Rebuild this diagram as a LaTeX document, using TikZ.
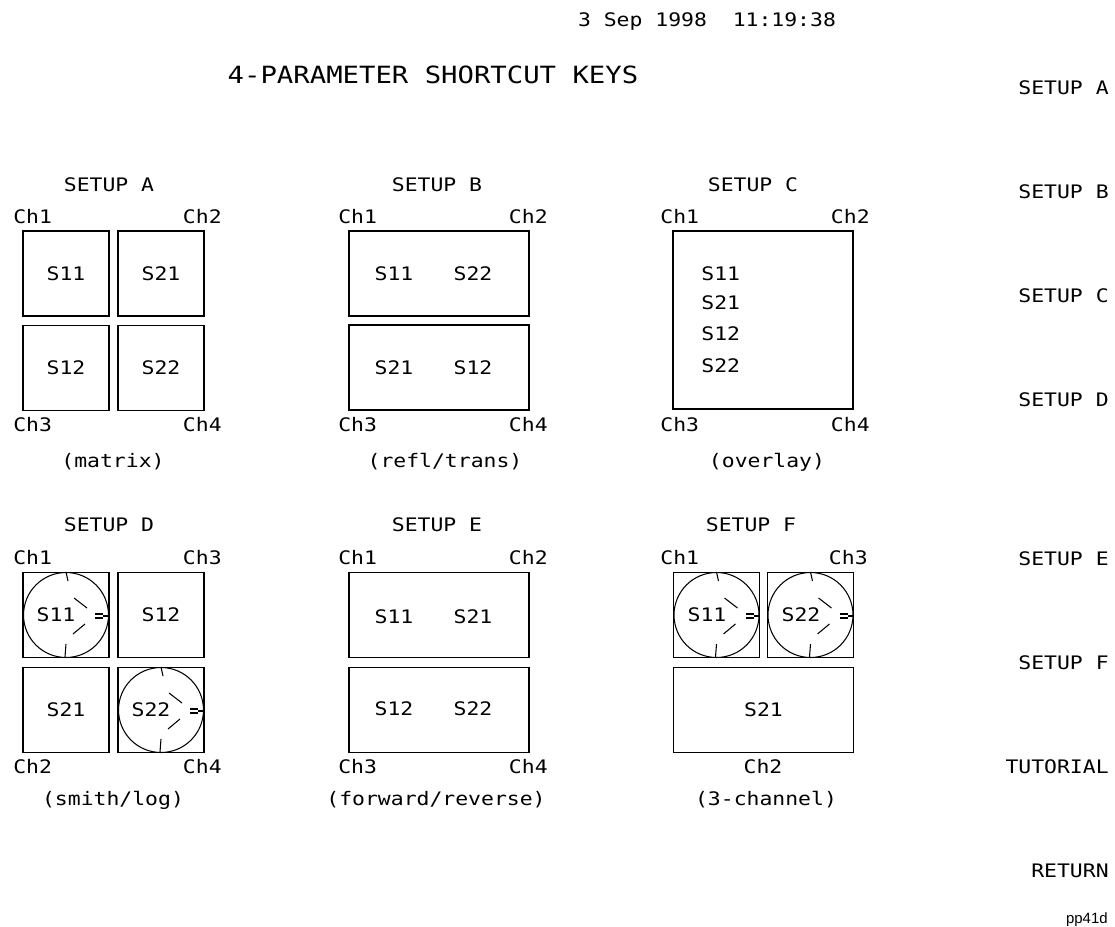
\documentclass[tikz,border=0pt]{standalone}
\usepackage{fontspec}
\usepackage{tikz}
\usetikzlibrary{positioning,calc}
\newfontfamily\hpfont[FakeStretch=1.15]{DejaVu Sans Mono}
\newfontfamily\tagfont{Liberation Sans}

% smith chart drawn inside a pane
\newcommand{\smithchart}[1]{%
  \begin{scope}[shift={(#1.center)}, smithline]
    \draw (0,0) circle [radius=0.85cm];
    \draw (0,-43) -- (2,-34);
    \draw (0,29) -- (-1,42);
    \draw (8,-17) -- (21,-7);
    \draw (7,19) -- (19,9);
    \draw (29,-1) -- (37,-1);
    \draw (29,3) -- (37,3);
    \draw (37,1) -- (43,1);
  \end{scope}}

\begin{document}
\begin{tikzpicture}[x=0.02cm, y=-0.02cm,
  hptext/.style={font=\hpfont\fontsize{10.6}{12}\selectfont, inner sep=0pt},
  hptitle/.style={font=\hpfont\fontsize{13.5}{15}\selectfont, inner sep=0pt},
  pane/.style={draw, line width=0.9pt, inner sep=0pt, hptext,
    minimum width=1.72cm, minimum height=1.70cm},
  widepane/.style={pane, minimum width=3.6cm},
  tallpane/.style={pane, minimum width=3.6cm, minimum height=3.56cm},
  softkey/.style={hptext, anchor=east},
  smithline/.style={line width=0.6pt}
]
\useasboundingbox (0,0) rectangle (1115,926);

% header
\node[hptext] (stamp) at (707,22) {3 Sep 1998\ \ 11:19:38};
\node[hptitle] (title) at (433,75) {4-PARAMETER SHORTCUT KEYS};

% softkey menu
\node[softkey] (keya) at (1109,88) {SETUP A};
\node[softkey] (keyb) at (1109,192) {SETUP B};
\node[softkey] (keyc) at (1109,296) {SETUP C};
\node[softkey] (keyd) at (1109,400) {SETUP D};
\node[softkey] (keye) at (1109,559) {SETUP E};
\node[softkey] (keyf) at (1109,663) {SETUP F};
\node[softkey] (keytut) at (1109,767) {TUTORIAL};
\node[softkey] (keyret) at (1109,871) {RETURN};
\node[font=\tagfont\fontsize{8.5}{10}\selectfont, inner sep=0pt, anchor=east] (tag) at (1108,920) {pp41d};

% setup A
\node[hptext] (labela) at (109,185) {SETUP A};
\node[pane] (a11) at (66,273.5) {S11};
\node[pane] (a21) at (161,273.5) {S21};
\node[pane] (a12) at (66,368) {S12};
\node[pane] (a22) at (161,368) {S22};
\node[hptext, anchor=west] (ach1) at (13,217) {Ch1};
\node[hptext, anchor=east] (ach2) at (222,217) {Ch2};
\node[hptext, anchor=west] (ach3) at (13,425) {Ch3};
\node[hptext, anchor=east] (ach4) at (222,425) {Ch4};
\node[hptext] (desca) at (113,462) {(matrix)};

% setup B
\node[hptext] (labelb) at (437,185) {SETUP B};
\node[widepane] (b1) at (439,273.5) {};
\node[widepane] (b2) at (439,367.5) {};
\node[hptext] at (394,274) {S11};
\node[hptext] at (473,274) {S22};
\node[hptext] at (394,368) {S21};
\node[hptext] at (473,368) {S12};
\node[hptext, anchor=west] (bch1) at (338,217) {Ch1};
\node[hptext, anchor=east] (bch2) at (548,217) {Ch2};
\node[hptext, anchor=west] (bch3) at (338,425) {Ch3};
\node[hptext, anchor=east] (bch4) at (548,425) {Ch4};
\node[hptext] (descb) at (445,462) {(refl/trans)};

% setup C
\node[hptext] (labelc) at (753,185) {SETUP C};
\node[tallpane] (c1) at (763,320) {};
\node[hptext, anchor=west] at (701,274) {S11};
\node[hptext, anchor=west] at (701,303) {S21};
\node[hptext, anchor=west] at (701,334) {S12};
\node[hptext, anchor=west] at (701,366) {S22};
\node[hptext, anchor=west] (cch1) at (660,217) {Ch1};
\node[hptext, anchor=east] (cch2) at (870,217) {Ch2};
\node[hptext, anchor=west] (cch3) at (660,425) {Ch3};
\node[hptext, anchor=east] (cch4) at (870,425) {Ch4};
\node[hptext] (descc) at (767,462) {(overlay)};

% setup D
\node[hptext] (labeld) at (109,525) {SETUP D};
\node[pane] (d11) at (66,615) {};
\node[pane] (d12) at (161,615) {S12};
\node[pane] (d21) at (66,710) {S21};
\node[pane] (d22) at (161,710) {};
\smithchart{d11}
\smithchart{d22}
\node[hptext] at (56,615) {S11};
\node[hptext] at (151,710) {S22};
\node[hptext, anchor=west] (dch1) at (13,558) {Ch1};
\node[hptext, anchor=east] (dch3) at (222,558) {Ch3};
\node[hptext, anchor=west] (dch2) at (13,767) {Ch2};
\node[hptext, anchor=east] (dch4) at (222,767) {Ch4};
\node[hptext] (descd) at (113,800) {(smith/log)};

% setup E
\node[hptext] (labele) at (437,525) {SETUP E};
\node[widepane] (e1) at (439,615) {};
\node[widepane] (e2) at (439,710) {};
\node[hptext] at (394,617) {S11};
\node[hptext] at (473,617) {S21};
\node[hptext] at (394,709) {S12};
\node[hptext] at (473,709) {S22};
\node[hptext, anchor=west] (ech1) at (338,558) {Ch1};
\node[hptext, anchor=east] (ech2) at (548,558) {Ch2};
\node[hptext, anchor=west] (ech3) at (338,767) {Ch3};
\node[hptext, anchor=east] (ech4) at (548,767) {Ch4};
\node[hptext] (desce) at (436,800) {(forward/reverse)};

% setup F
\node[hptext] (labelf) at (751,525) {SETUP F};
\node[pane] (f11) at (716.5,615) {};
\node[pane] (f22) at (810.5,615) {};
\node[widepane] (f21) at (763.5,710) {S21};
\smithchart{f11}
\smithchart{f22}
\node[hptext] at (707,615) {S11};
\node[hptext] at (801,615) {S22};
\node[hptext, anchor=west] (fch1) at (660,558) {Ch1};
\node[hptext, anchor=east] (fch3) at (868,558) {Ch3};
\node[hptext] (fch2) at (763,767) {Ch2};
\node[hptext] (descf) at (766,800) {(3-channel)};
\end{tikzpicture}
\end{document}
